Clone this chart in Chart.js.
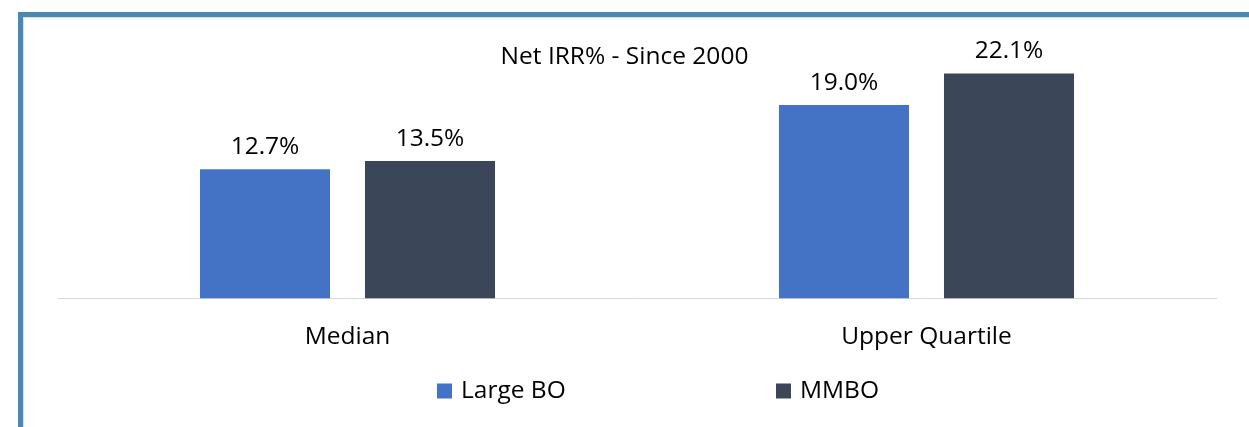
<!DOCTYPE html>
<html>
<head>
<meta charset="utf-8">
<script src="https://cdn.jsdelivr.net/npm/chart.js@4.4.0/dist/chart.umd.min.js"></script>
<style>
  html, body { margin: 0; padding: 0; background: #ffffff; }
  #wrap { position: relative; width: 1249px; height: 427px; overflow: hidden; }
  #frame { position: absolute; left: 18px; top: 12px; width: 1231px; height: 415px;
           border-top: 5px solid #4a88b4; border-left: 5px solid #4a88b4; box-sizing: border-box; }
  #inner { position: absolute; left: 0; top: 0; right: 0; bottom: 0;
           border-top: 1px solid #cfe2f0; border-left: 1px solid #cfe2f0; }
  canvas { position: absolute; left: 0; top: 0; }
</style>
</head>
<body>
<div id="wrap">
  <div id="frame"><div id="inner"></div></div>
  <canvas id="c" width="1249" height="427"></canvas>
</div>
<script>
const categories = ["Median", "Upper Quartile"];
const largeBO = [12.7, 19.0];
const mmbo = [13.5, 22.1];
const seriesNames = ["Large BO", "MMBO"];
const chartTitle = "Net IRR% - Since 2000";

const FONT = "'Open Sans', 'Noto Sans', sans-serif";
const FS = 24.5;

const titlePlugin = {
  id: 'overlayTitle',
  afterDraw(chart) {
    const ctx = chart.ctx;
    ctx.save();
    ctx.font = FS + "px " + FONT;
    ctx.fillStyle = "#000000";
    ctx.textAlign = "center";
    ctx.textBaseline = "middle";
    ctx.fillText(chartTitle, chart.width / 2, 57);
    ctx.restore();
  }
};

const valueLabels = {
  id: 'valueLabels',
  afterDatasetsDraw(chart) {
    const ctx = chart.ctx;
    ctx.save();
    ctx.font = FS + "px " + FONT;
    ctx.fillStyle = "#000000";
    ctx.textAlign = "center";
    ctx.textBaseline = "middle";
    chart.data.datasets.forEach((ds, i) => {
      chart.getDatasetMeta(i).data.forEach((bar, j) => {
        ctx.fillText(ds.data[j].toFixed(1) + "%", bar.x, bar.y - 22.5);
      });
    });
    ctx.restore();
  }
};

const legendPlugin = {
  id: 'customLegend',
  afterDraw(chart) {
    const ctx = chart.ctx;
    const starts = [437, 776];
    const cy = 391;
    ctx.save();
    ctx.font = FS + "px " + FONT;
    ctx.textAlign = "left";
    ctx.textBaseline = "middle";
    chart.data.datasets.forEach((ds, i) => {
      ctx.fillStyle = ds.backgroundColor;
      ctx.fillRect(starts[i], cy - 7.5, 15, 15);
      ctx.fillStyle = "#000000";
      ctx.fillText(ds.label, starts[i] + 24, cy);
    });
    ctx.restore();
  }
};

new Chart(document.getElementById('c'), {
  type: 'bar',
  data: {
    labels: categories,
    datasets: [
      { label: seriesNames[0], data: largeBO, backgroundColor: "#4472c4",
        categoryPercentage: 0.57, barPercentage: 0.788 },
      { label: seriesNames[1], data: mmbo, backgroundColor: "#3b4758",
        categoryPercentage: 0.57, barPercentage: 0.788 }
    ]
  },
  options: {
    responsive: false,
    animation: false,
    layout: { padding: { left: 58, right: 33, top: 44, bottom: 59 } },
    scales: {
      x: {
        grid: { display: false },
        border: { display: true, color: "#d9d9d9", width: 1 },
        ticks: { color: "#000000", font: { family: FONT, size: FS }, padding: 16 }
      },
      y: {
        display: false,
        min: 0, max: 25
      }
    },
    plugins: {
      legend: { display: false },
      tooltip: { enabled: false },
      title: { display: false }
    }
  },
  plugins: [titlePlugin, valueLabels, legendPlugin]
});
</script>
</body>
</html>
